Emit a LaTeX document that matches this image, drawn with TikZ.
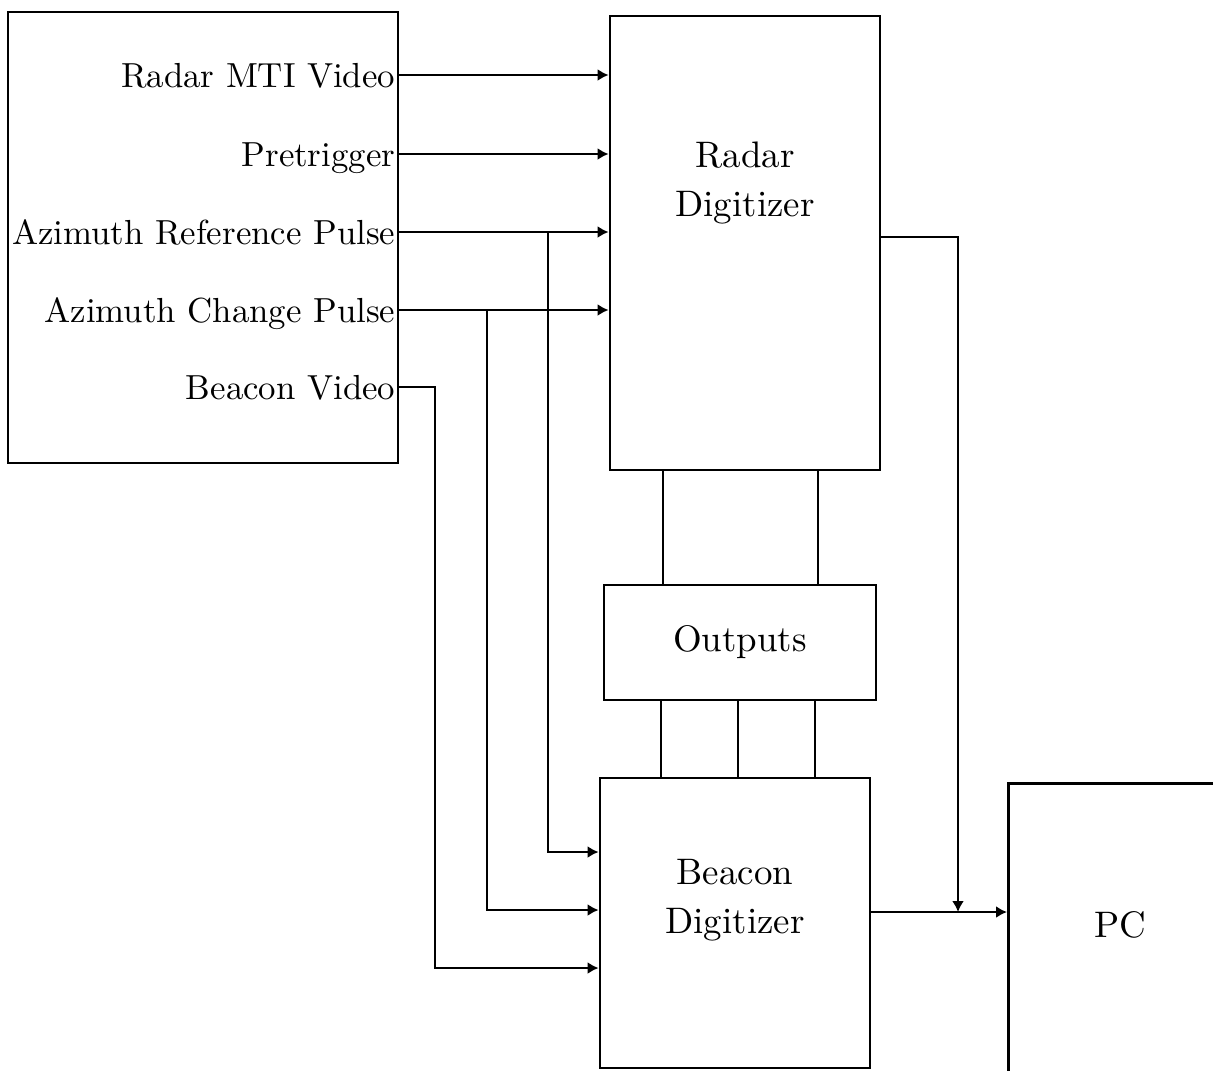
\documentclass[tikz,border=0pt]{standalone}
\usepackage{tikz}
\usetikzlibrary{arrows.meta,positioning,calc}

\begin{document}
\begin{tikzpicture}[
    box/.style={draw,line width=0.8pt,inner sep=0pt},
    sig/.style={anchor=east,inner xsep=0.6pt,inner ysep=0pt,
                text height=1.6ex,text depth=0pt,
                font=\fontsize{9.9}{12}\selectfont},
    ttl/.style={align=center,font=\fontsize{10.5}{14}\selectfont},
    wire/.style={line width=0.8pt},
    feed/.style={wire,-{Latex[length=1.1mm,width=1.2mm]}},
    font=\fontsize{10.5}{13}\selectfont]

    \useasboundingbox (0,0) rectangle (12.13,-10.70);
    \clip (0,0) rectangle (12.13,-10.70);

    % Boxes
    \node[box,minimum width=3.90cm,minimum height=4.51cm] (src) at (2.03,-2.375) {};
    \node[box,minimum width=2.70cm,minimum height=4.54cm] (rdig) at (7.45,-2.43) {};
    \node[box,minimum width=2.72cm,minimum height=1.15cm] (outp) at (7.40,-6.425) {Outputs};
    \node[box,minimum width=2.70cm,minimum height=2.90cm] (bdig) at (7.35,-9.23) {};
    \node[box,anchor=north west,minimum width=3cm,minimum height=4cm] (pc) at (10.07,-7.82) {};

    \node[ttl] (rdigtxt) at (7.45,-1.83) {Radar\\Digitizer};
    \node[ttl] (bdigtxt) at (7.35,-9.00) {Beacon\\Digitizer};
    \node[ttl] (pctxt) at (11.20,-9.25) {PC};

    % Signals
    \foreach \n/\txt/\y in {1/Radar MTI Video/0.75,2/Pretrigger/1.54,
                            3/Azimuth Reference Pulse/2.32,
                            4/Azimuth Change Pulse/3.10,5/Beacon Video/3.87} {
      \node[sig] (s\n) at (3.98,-\y) {\txt};
    }
    \foreach \n in {1,...,4} {
      \draw[feed] (s\n.east) -- (s\n.east -| rdig.west);
    }

    % Branches to beacon digitizer
    \coordinate (jref) at (5.48,-2.32);
    \coordinate (jchg) at (4.87,-3.10);
    \coordinate (jbcn) at (4.35,-3.87);
    \draw[feed] (jref) |- ([yshift=7.1mm]bdig.west);
    \draw[feed] (jchg) |- ([yshift=1.3mm]bdig.west);
    \draw[feed] (s5.east) -- (jbcn) |- ([yshift=-4.5mm]bdig.west);

    % Digitizers to outputs
    \foreach \k/\x in {1/6.63,2/8.18} {
      \coordinate (ro\k) at (\x,0);
      \draw[wire] (rdig.south -| ro\k) -- (outp.north -| ro\k);
    }
    \foreach \k/\x in {1/6.61,2/7.38,3/8.15} {
      \coordinate (bo\k) at (\x,0);
      \draw[wire] (outp.south -| bo\k) -- (bdig.north -| bo\k);
    }

    % To PC
    \coordinate (rout) at ([yshift=0.6mm]rdig.east);
    \coordinate (bout) at ([yshift=1.1mm]bdig.east);
    \coordinate (jpc) at (9.58,-9.12);
    \draw[feed] (rout) -| (jpc);
    \draw[feed] (bout) -- (bout -| pc.west);
\end{tikzpicture}
\end{document}
